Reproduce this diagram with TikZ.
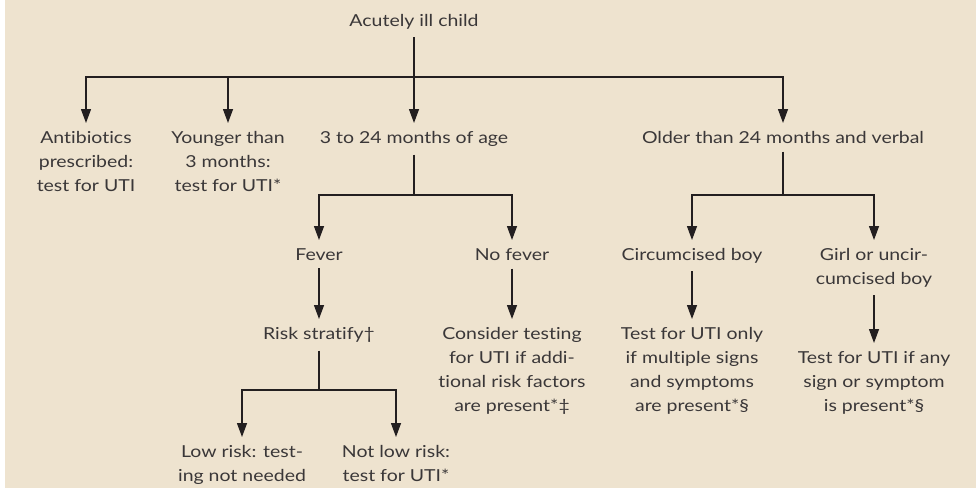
\documentclass[tikz,border=0pt]{standalone}
\usepackage{fontspec}
\setmainfont{Lato}[FakeStretch=1.18, Ligatures=NoCommon]
\usepackage{tikz}
\usetikzlibrary{arrows.meta, calc}
\definecolor{paper}{RGB}{238,227,207}
\definecolor{ink}{RGB}{35,31,32}
\definecolor{txt}{RGB}{58,55,56}

\begin{document}
\begin{tikzpicture}[x=1pt,y=-1pt,%
    box/.style={
      anchor=north,
      align=center,
      inner xsep=0pt,
      inner ysep=8pt,
      text=txt,
      font=\fontsize{16.5}{24}\selectfont
    },
    link/.style={draw=ink, line width=1.3pt},
    arr/.style={link, -{Triangle[length=14pt,width=10pt]}}]
    \useasboundingbox (0,0) rectangle (976,488);
    \fill[white] (0,0) rectangle (976,488);
    \fill[paper] (5,0) rectangle (976,488);

    % nodes
    \node[box] at (414,6) (acute) {Acutely ill child};
    \node[box] at (86,123) (abx) {Antibiotics\\prescribed:\\test for UTI};
    \node[box] at (228,123) (young) {Younger than\\3 months:\\test for UTI*};
    \node[box] at (414,123) (age) {3 to 24 months of age};
    \node[box] at (783,123) (older) {Older than 24 months and verbal};
    \node[box] at (319,240) (fever) {Fever};
    \node[box] at (512,240) (nofever) {No fever};
    \node[box] at (692,240) (circ) {Circumcised boy};
    \node[box] at (874,240) (girl) {Girl or uncir-\\cumcised boy};
    \node[box] at (319,319) (risk) {Risk stratify†};
    \node[box] at (512,319) (consider) {Consider testing\\for UTI if addi-\\tional risk factors\\are present*‡};
    \node[box] at (692,319) (multi) {Test for UTI only\\if multiple signs\\and symptoms\\are present*§};
    \node[box] at (874,343) (any) {Test for UTI if any\\sign or symptom\\is present*§};
    \node[box] at (242,437) (low) {Low risk: test-\\ing not needed};
    \node[box] at (396,437) (notlow) {Not low risk:\\test for UTI*};

    % branch points
    \coordinate (j1) at (414,77);
    \coordinate (j2) at (414,195);
    \coordinate (j3) at (783,195);
    \coordinate (j4) at (319,390);

    % connectors
    \draw[arr] (acute) -- (age);
    \draw[arr] (j1) -| (abx);
    \draw[arr] (j1) -| (young);
    \draw[arr] (j1) -| (older);
    \draw[link] (age) -- (j2);
    \draw[arr] (j2) -| (fever);
    \draw[arr] (j2) -| (nofever);
    \draw[link] (older) -- (j3);
    \draw[arr] (j3) -| (circ);
    \draw[arr] (j3) -| (girl);
    \draw[arr] (fever) -- (risk);
    \draw[arr] (nofever) -- (consider);
    \draw[arr] (circ) -- (multi);
    \draw[arr] (girl) -- (any);
    \draw[link] (risk) -- (j4);
    \draw[arr] (j4) -| (low);
    \draw[arr] (j4) -| (notlow);
\end{tikzpicture}
\end{document}
